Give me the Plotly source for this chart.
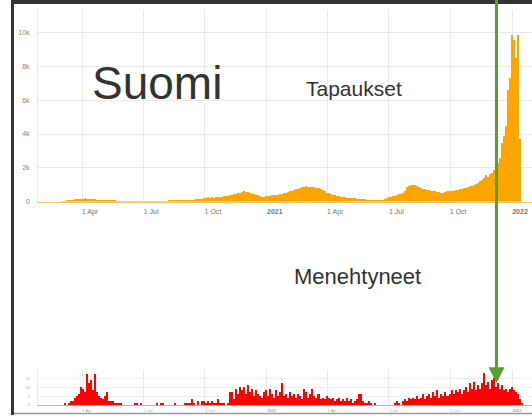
import pandas as pd
import plotly.graph_objects as go

W, H = 532, 418

START_DATE = "2020-02-26"
BIN_DAYS = 3

# daily cases (Tapaukset), one value per 3-day bin
cases = [
    0, 2, 8, 25, 45, 70, 100, 120, 140, 150, 165, 180, 175, 200, 170, 155, 160, 140, 130, 120,
    110, 100, 90, 80, 70, 60, 50, 45, 40, 35, 30, 25, 20, 15, 10, 8, 6, 5, 5, 4,
    5, 6, 5, 8, 10, 12, 15, 12, 18, 20, 15, 22, 25, 30, 35, 40, 45, 50, 55, 60,
    70, 75, 80, 90, 85, 100, 110, 120, 130, 140, 160, 180, 200, 220, 250, 230, 260, 240, 270, 260,
    280, 300, 320, 340, 360, 380, 400, 430, 460, 500, 540, 570, 600, 580, 560, 520, 480, 440, 400, 370,
    340, 300, 270, 320, 350, 340, 380, 400, 370, 420, 440, 480, 500, 530, 570, 600, 640, 680, 720, 760,
    800, 840, 870, 900, 880, 860, 890, 850, 820, 780, 720, 660, 600, 540, 490, 450, 410, 380, 350, 320,
    300, 280, 260, 240, 220, 210, 200, 190, 180, 170, 160, 150, 130, 120, 110, 100, 95, 85, 80, 85,
    100, 120, 160, 200, 250, 300, 330, 360, 400, 430, 470, 520, 650, 850, 950, 1000, 960, 980, 900, 850,
    800, 760, 720, 700, 680, 650, 620, 600, 570, 550, 530, 520, 560, 610, 640, 600, 650, 680, 700, 720,
    750, 780, 820, 860, 900, 950, 1000, 1050, 1100, 1200, 1300, 1400, 1550, 1450, 1650, 1700, 1900, 2200, 2300, 2600,
    3500, 3900, 4500, 6600, 7300, 9900, 9600, 8500, 9900, 3700,
]

# daily deaths (Menehtyneet), same bins
deaths = [
    0, 0, 0, 1, 0, 1, 2, 2, 4, 5, 6, 10, 9, 7, 17, 12, 14, 8, 17, 7,
    5, 4, 3, 5, 7, 2, 2, 2, 1, 1, 1, 1, 0, 0, 0, 0, 0, 0, 1, 1,
    0, 1, 0, 0, 0, 0, 0, 0, 0, 1, 0, 1, 1, 0, 0, 0, 0, 0, 1, 0,
    0, 0, 0, 1, 1, 1, 3, 1, 0, 2, 0, 2, 2, 1, 2, 1, 2, 1, 1, 3,
    1, 1, 1, 0, 1, 7, 7, 3, 9, 6, 10, 8, 10, 6, 11, 7, 9, 5, 8, 6,
    5, 4, 7, 8, 5, 9, 6, 4, 8, 5, 7, 12, 5, 6, 4, 7, 5, 6, 4, 6,
    5, 3, 9, 7, 4, 6, 9, 5, 4, 6, 3, 4, 3, 5, 4, 3, 4, 2, 3, 4,
    2, 3, 2, 4, 2, 3, 1, 2, 3, 6, 6, 2, 1, 1, 2, 1, 0, 1, 0, 0,
    0, 0, 0, 0, 0, 0, 0, 1, 2, 1, 0, 2, 3, 2, 4, 3, 4, 3, 5, 3,
    4, 6, 3, 5, 6, 4, 7, 5, 8, 4, 6, 5, 7, 5, 6, 8, 6, 8, 7, 9,
    6, 8, 10, 7, 12, 9, 13, 8, 11, 9, 12, 18, 11, 13, 9, 14, 15, 10, 12, 9,
    11, 8, 9, 7, 9, 10, 8, 7, 6, 3, 1,
]

tick_dates = ["2020-04-01", "2020-07-01", "2020-10-01", "2021-01-01",
              "2021-04-01", "2021-07-01", "2021-10-01", "2022-01-01"]
tick_text = ["1 Apr", "1 Jul", "1 Oct", "<b>2021</b>",
             "1 Apr", "1 Jul", "1 Oct", "<b>2022</b>"]
x_range = ["2020-01-26 12:00", "2022-01-30 18:30"]

cases_y_ticks = [0, 2000, 4000, 6000, 8000, 10000]
cases_y_text = ["0", "2k", "4k", "6k", "8k", "10k"]
deaths_y_ticks = [0, 5, 10, 15]

cases_x = pd.date_range(START_DATE, periods=len(cases), freq=f"{BIN_DAYS}D")
deaths_x = pd.date_range(START_DATE, periods=len(deaths), freq=f"{BIN_DAYS}D")
bar_w = BIN_DAYS * 24 * 3600 * 1000


def px_x(v):
    return v / W


def px_y(v):
    return 1 - v / H


fig = go.Figure()
fig.add_trace(go.Bar(x=cases_x, y=cases, width=bar_w, marker_color="#FFA500",
                     marker_line_width=0, xaxis="x", yaxis="y"))
fig.add_trace(go.Bar(x=deaths_x, y=deaths, width=bar_w, marker_color="#FF0000",
                     marker_line_width=0, xaxis="x2", yaxis="y2"))

GRID = "#e9e9e9"
axis_common = dict(type="date", range=x_range, tickvals=tick_dates, ticktext=tick_text,
                   showgrid=True, gridcolor=GRID, gridwidth=1, zeroline=False, ticks="")

fig.update_layout(
    width=W, height=H, autosize=False,
    margin=dict(l=0, r=0, t=0, b=0),
    paper_bgcolor="white", plot_bgcolor="white",
    showlegend=False, bargap=0,
    font=dict(family="Liberation Sans, Arial, sans-serif", color="#888"),
    xaxis=dict(**axis_common, domain=[px_x(38), 1], anchor="y",
               showline=True, linecolor="#F7C46A", linewidth=1,
               tickfont=dict(size=7, color="#777"), ticklabelshift=8, ticklabelstandoff=3),
    yaxis=dict(domain=[px_y(203), px_y(10)], range=[0, 11353], tickvals=cases_y_ticks,
               ticktext=cases_y_text, showgrid=True, gridcolor=GRID, zeroline=False,
               showline=True, linecolor=GRID, ticks="", ticklabelstandoff=6,
               tickfont=dict(size=7, color="#888")),
    xaxis2=dict(**axis_common, domain=[px_x(38), 1], anchor="y2",
                showline=True, linecolor="#FF9A9A", linewidth=1,
                tickfont=dict(size=4, color="#aaa"), ticklabelshift=5, ticklabelstandoff=1),
    yaxis2=dict(domain=[px_y(408), px_y(373)], range=[0, 19.44], tickvals=deaths_y_ticks,
                showgrid=True, gridcolor="#f0f0f0", zeroline=False,
                showline=True, linecolor=GRID, ticks="", ticklabelstandoff=6,
                tickfont=dict(size=4, color="#aaa")),
)

# frame of the screenshot
DARK = "#333333"
fig.add_shape(type="rect", xref="paper", yref="paper", x0=px_x(11), x1=px_x(14),
              y0=0, y1=1, fillcolor=DARK, line_width=0)
fig.add_shape(type="rect", xref="paper", yref="paper", x0=px_x(11), x1=1,
              y0=px_y(4), y1=1, fillcolor=DARK, line_width=0)
fig.add_shape(type="line", xref="paper", yref="paper", x0=px_x(14), x1=1,
              y0=px_y(416.5), y1=px_y(416.5), line=dict(color="#9a9a9a", width=1.5))

# green arrow
GREEN = "#5A9E32"
fig.add_shape(type="line", xref="paper", yref="paper", x0=px_x(496.5), x1=px_x(496.5),
              y0=px_y(0), y1=px_y(372), line=dict(color=GREEN, width=3))
fig.add_shape(type="path", xref="paper", yref="paper",
              path=f"M {px_x(488.5)} {px_y(370)} L {px_x(504.5)} {px_y(370)} "
                   f"L {px_x(496.5)} {px_y(386)} Z",
              fillcolor=GREEN, line_width=0)

TEXT = "#333333"
fig.add_annotation(text="Suomi", xref="paper", yref="paper", x=px_x(157), y=px_y(84),
                   xanchor="center", yanchor="middle", showarrow=False,
                   font=dict(size=46, color=TEXT))
fig.add_annotation(text="Tapaukset", xref="paper", yref="paper", x=px_x(354), y=px_y(89),
                   xanchor="center", yanchor="middle", showarrow=False,
                   font=dict(size=21, color=TEXT))
fig.add_annotation(text="Menehtyneet", xref="paper", yref="paper", x=px_x(357), y=px_y(278),
                   xanchor="center", yanchor="middle", showarrow=False,
                   font=dict(size=22, color=TEXT))

fig.write_html("out.html", config={"displayModeBar": False},
               post_script="document.body.style.margin='0';")
